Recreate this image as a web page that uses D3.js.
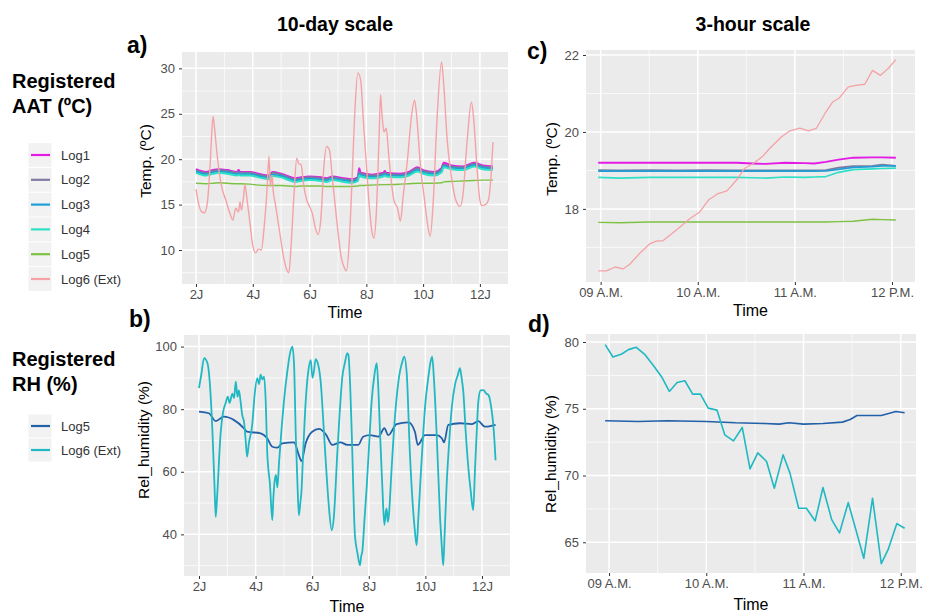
<!DOCTYPE html>
<html>
<head>
<meta charset="utf-8">
<script src="https://cdn.jsdelivr.net/npm/d3@7"></script>
<style>
body { margin: 0; background: #fff; }
svg { font-family: "Liberation Sans", Arial, sans-serif; }
</style>
</head>
<body>
<svg id="chart" width="925" height="615"></svg>
<script>
// ---- 10-day scale, indoor loggers (day of January) ----
var daysIn = [2.0,2.35,2.6,2.8,3.1,3.45,3.5,3.55,3.9,4.2,4.55,4.7,5.0,5.5,5.7,6.0,6.4,6.6,6.8,7.2,
  7.5,7.7,7.75,7.8,8.2,8.6,8.65,8.7,9.2,9.5,9.8,10.0,10.4,10.65,10.72,11.0,11.4,11.8,12.1,12.46];
var tempLog1 = [18.9,18.6,18.8,18.9,18.8,18.6,18.8,18.6,18.6,18.4,18.2,18.6,18.4,17.9,18.0,18.1,18.0,17.9,18.1,17.9,
  17.8,18.0,19.0,18.5,18.3,18.5,18.7,18.5,18.4,18.6,19.1,18.8,18.6,19.0,19.6,19.3,19.2,19.6,19.3,19.2];
var tempLog2 = [18.8,18.5,18.7,18.8,18.7,18.5,18.6,18.5,18.5,18.3,18.1,18.5,18.3,17.8,17.9,18.0,17.9,17.8,18.0,17.8,
  17.7,17.9,18.6,18.4,18.2,18.4,18.5,18.4,18.3,18.5,19.0,18.7,18.5,18.9,19.4,19.2,19.1,19.5,19.2,19.1];
var tempLog3 = [18.65,18.35,18.55,18.65,18.55,18.35,18.45,18.35,18.35,18.15,17.95,18.3,18.15,17.65,17.75,17.85,17.75,17.65,17.85,17.65,
  17.55,17.75,18.4,18.25,18.05,18.25,18.35,18.25,18.15,18.35,18.8,18.55,18.35,18.7,19.25,19.05,18.95,19.35,19.05,18.95];
var tempLog4 = [18.5,18.2,18.4,18.5,18.4,18.2,18.3,18.2,18.2,18.0,17.8,18.15,18.0,17.5,17.6,17.7,17.6,17.5,17.7,17.5,
  17.4,17.6,18.2,18.1,17.9,18.1,18.2,18.1,18.0,18.2,18.65,18.4,18.2,18.55,19.1,18.9,18.8,19.2,18.9,18.8];
var tempLog5 = [17.35,17.3,17.35,17.4,17.35,17.3,17.3,17.3,17.25,17.15,17.1,17.1,17.1,17.0,17.05,17.05,17.05,17.0,17.0,17.0,
  17.0,17.05,17.1,17.1,17.15,17.2,17.2,17.2,17.25,17.3,17.35,17.35,17.35,17.4,17.5,17.55,17.6,17.65,17.7,17.7];

// ---- 10-day scale, exterior logger ----
var daysExt = [2.0,2.1,2.2,2.3,2.4,2.5,2.6,2.65,2.75,2.9,3.05,3.2,3.3,3.4,3.5,3.55,3.6,3.68,3.72,3.8,
  3.9,4.0,4.1,4.2,4.3,4.4,4.5,4.57,4.62,4.68,4.72,4.8,4.95,5.1,5.2,5.27,5.35,5.45,5.55,5.62,
  5.7,5.8,5.9,6.0,6.1,6.2,6.3,6.4,6.5,6.6,6.7,6.8,6.9,7.0,7.1,7.25,7.3,7.4,7.5,7.6,
  7.7,7.8,7.9,8.0,8.1,8.2,8.27,8.35,8.45,8.5,8.55,8.62,8.7,8.8,8.97,9.1,9.2,9.3,9.45,9.6,
  9.7,9.78,9.9,10.05,10.15,10.25,10.35,10.5,10.65,10.72,10.85,11.0,11.15,11.3,11.4,11.55,11.7,11.78,11.9,12.0,
  12.07,12.2,12.3,12.4,12.46];
var tempLog6 = [16.7,15.0,14.2,14.1,15.2,19.5,24.7,23.5,20.3,17.0,15.5,14.0,13.3,14.6,14.2,15.3,14.4,16.0,17.2,15.5,
  13.0,10.5,9.7,10.1,10.0,12.5,16.5,20.3,17.0,18.2,16.5,15.0,11.9,9.0,7.8,7.5,10.5,16.0,20.1,19.5,
  19.4,17.0,15.5,14.8,14.0,12.5,11.7,13.5,19.0,21.4,21.0,18.0,15.0,12.0,9.5,7.9,7.7,11.0,18.0,25.5,
  29.5,28.7,24.0,19.5,15.0,12.0,11.3,14.0,22.5,27.1,25.0,23.0,23.4,20.0,15.5,14.6,13.2,16.0,20.0,25.0,
  26.5,24.5,19.5,15.5,13.0,11.5,15.0,25.0,30.7,28.5,22.0,18.0,15.5,14.8,16.0,22.0,26.3,24.5,19.0,15.5,
  14.9,15.0,15.5,18.5,21.9];

// ---- 10-day scale, relative humidity ----
var daysRh5 = [2.0,2.35,2.59,2.88,3.24,3.59,3.7,4.18,4.41,4.59,4.77,4.94,5.36,5.53,5.62,5.77,6.0,6.24,6.48,6.71,
  7.0,7.24,7.63,7.8,8.04,8.34,8.55,8.69,8.98,9.4,9.63,9.73,9.99,10.4,10.58,10.66,10.81,11.22,11.63,11.87,12.1,12.48];
var rhLog5 = [79.2,78.7,76.2,77.6,76.5,73.9,72.8,72.3,70.7,68,67.7,69.1,69.4,65.3,63.4,69.1,72.8,73.7,72,68.6,
  69.4,68.6,68.6,71.2,71.7,71.2,73.9,71.7,75.2,75.8,72.8,68.6,71.7,71.7,70.7,69.4,75,75.5,75.2,76.2,74.4,75];
var daysRh6 = [2.0,2.08,2.18,2.3,2.4,2.48,2.55,2.59,2.64,2.76,
  2.85,2.94,3.02,3.08,3.18,3.24,3.3,3.36,3.41,3.47,
  3.53,3.59,3.65,3.7,3.76,3.88,3.97,4.06,4.12,4.18,
  4.24,4.3,4.36,4.41,4.51,4.59,4.63,4.67,4.72,4.77,
  4.83,4.92,5.0,5.12,5.22,5.3,5.36,5.42,5.48,5.53,
  5.58,5.62,5.68,5.77,5.86,5.95,6.01,6.06,6.12,6.18,
  6.24,6.3,6.4,6.48,6.58,6.69,6.76,6.89,6.98,7.06,
  7.16,7.24,7.28,7.34,7.4,7.51,7.6,7.69,7.73,7.77,
  7.85,7.93,8.02,8.1,8.2,8.28,8.34,8.4,8.48,8.55,
  8.6,8.63,8.67,8.71,8.8,8.92,9.01,9.1,9.18,9.25,
  9.34,9.45,9.55,9.62,9.69,9.75,9.83,9.92,10.0,10.1,
  10.18,10.24,10.3,10.4,10.52,10.58,10.63,10.68,10.75,10.83,
  10.93,11.05,11.15,11.22,11.28,11.34,11.43,11.52,11.6,11.69,
  11.75,11.82,11.87,11.95,12.05,12.15,12.23,12.32,12.4,12.44,
  12.48];
var rhLog6 = [86.7,91,96.3,94.7,86,71.7,55,45.6,52,71.7,
  79,81.9,84,82,85,83.5,88.8,84,86,82.4,
  78,76,70,64.8,69,75,85,89.9,88,91,
  89.5,90.4,82,66.4,55.7,44.5,52,56.8,59,55,
  63.2,74,82.4,92,98,100,94,71.7,56,46.1,
  50,53.6,66,82.4,92,95.7,90,92,96,95.2,
  93,88.8,75,63.2,50,41.3,45,66.4,80,89.9,
  95,97.9,97.3,88,71.7,39.7,34,30.1,33,34.4,
  45,55.7,70,82.4,91,94.7,86,71.7,55,43,
  47,48.3,44,46.1,60,77.1,86,92,95,96.8,
  91.5,66.4,50,42,36.5,45,58,71.7,82,89.9,
  95,96.8,90,71.7,45.1,36,30.1,40,55.7,68,
  80.3,88,91,93.1,90,85.6,72,61.1,54,47.7,
  60,74,82.4,86,86.1,85,84.5,81,75,70,
  63.7];

// ---- 3-hour scale, temperature (hour of day) ----
var hoursIn = [8.975,9.2,9.5,9.8,10.1,10.4,10.56,10.7,10.9,11.1,11.2,11.32,11.45,11.6,11.8,11.9,12.04];
var hTempLog1 = [19.2,19.2,19.2,19.2,19.2,19.2,19.18,19.17,19.2,19.19,19.18,19.22,19.28,19.33,19.34,19.34,19.33];
var hTempLog2 = [19.01,19.0,19.01,19.0,19.01,19.0,19.0,19.0,19.0,19.0,19.0,19.01,19.07,19.11,19.12,19.15,19.12];
var hTempLog3 = [18.98,18.98,18.98,18.98,18.98,18.98,18.98,18.98,18.98,18.98,18.98,18.99,19.03,19.08,19.1,19.12,19.12];
var hTempLog4 = [18.82,18.8,18.82,18.82,18.82,18.82,18.81,18.8,18.83,18.82,18.83,18.84,18.95,19.02,19.04,19.05,19.06];
var hTempLog5 = [17.65,17.64,17.66,17.66,17.66,17.66,17.66,17.66,17.66,17.66,17.66,17.66,17.67,17.68,17.73,17.72,17.71];
var hoursExt = [8.975,9.06,9.15,9.23,9.3,9.4,9.51,9.58,9.64,9.78,9.92,10.02,10.11,10.21,10.3,10.4,10.48,10.57,10.67,10.74,
  10.86,10.95,11.05,11.14,11.22,11.31,11.39,11.46,11.55,11.63,11.72,11.8,11.88,11.96,12.04];
var hTempLog6 = [16.39,16.39,16.49,16.44,16.56,16.84,17.1,17.17,17.17,17.45,17.75,17.92,18.23,18.4,18.47,18.75,19.05,19.18,19.37,19.57,
  19.87,20.03,20.1,20.03,20.09,20.48,20.78,20.89,21.17,21.21,21.24,21.6,21.47,21.65,21.88];

// ---- 3-hour scale, relative humidity ----
var hoursRh5 = [8.96,9.3,9.6,10.0,10.3,10.6,10.75,10.85,11.0,11.2,11.4,11.48,11.55,11.8,11.95,12.04];
var hRhLog5 = [74.1,74.05,74.1,74.05,73.95,73.9,73.85,73.95,73.85,73.9,74.0,74.2,74.5,74.5,74.8,74.7];
var hoursRh6 = [8.96,9.04,9.13,9.2,9.28,9.37,9.46,9.54,9.62,9.7,9.78,9.86,9.94,10.02,10.11,10.19,10.28,10.37,10.45,10.53,
  10.62,10.7,10.79,10.86,10.95,11.03,11.12,11.2,11.29,11.37,11.46,11.54,11.62,11.71,11.8,11.87,11.96,12.04];
var hRhLog6 = [79.8,78.88,79.1,79.43,79.6,79.05,78.2,77.4,76.3,76.97,77.1,76.1,76.1,75.05,74.9,73.05,72.6,73.6,70.5,71.7,
  71.05,69.05,71.55,70.2,67.55,67.55,66.6,69.1,66.7,65.7,67.97,65.9,63.8,68.3,63.4,64.45,66.4,66.05];

// ---- ticks and labels ----
var dayTicks = [2, 4, 6, 8, 10, 12];
var dayLabels = ["2J", "4J", "6J", "8J", "10J", "12J"];
var hourTicks = [9, 10, 11, 12];
var hourLabels = ["09 A.M.", "10 A.M.", "11 A.M.", "12 P.M."];
var tempTicks10 = [10, 15, 20, 25, 30];
var rhTicks10 = [40, 60, 80, 100];
var tempTicks3 = [18, 20, 22];
var rhTicks3 = [65, 70, 75, 80];

var tempNames = ["Log1", "Log2", "Log3", "Log4", "Log5", "Log6 (Ext)"];
var tempColors = ["#E41BE4", "#7F7BA0", "#1E9ED6", "#2EE0C6", "#7DC242", "#F5A2A6"];
var rhNames = ["Log5", "Log6 (Ext)"];
var rhColors = ["#2260A8", "#20B8C2"];

var svg = d3.select("#chart");

function panel(p) {
  var x = d3.scaleLinear().domain(p.xDomain).range([p.left, p.right]);
  var y = d3.scaleLinear().domain(p.yDomain).range([p.bottom, p.top]);
  var g = svg.append("g");

  g.append("rect")
    .attr("x", p.left).attr("y", p.top)
    .attr("width", p.right - p.left).attr("height", p.bottom - p.top)
    .attr("fill", "#EBEBEB");

  // minor grid
  p.xMinor.forEach(function (v) {
    g.append("line").attr("x1", x(v)).attr("x2", x(v)).attr("y1", p.top).attr("y2", p.bottom)
      .attr("stroke", "#fff").attr("stroke-width", 0.7);
  });
  p.yMinor.forEach(function (v) {
    g.append("line").attr("y1", y(v)).attr("y2", y(v)).attr("x1", p.left).attr("x2", p.right)
      .attr("stroke", "#fff").attr("stroke-width", 0.7);
  });
  // major grid
  p.xTicks.forEach(function (v) {
    g.append("line").attr("x1", x(v)).attr("x2", x(v)).attr("y1", p.top).attr("y2", p.bottom)
      .attr("stroke", "#fff").attr("stroke-width", 1.5);
  });
  p.yTicks.forEach(function (v) {
    g.append("line").attr("y1", y(v)).attr("y2", y(v)).attr("x1", p.left).attr("x2", p.right)
      .attr("stroke", "#fff").attr("stroke-width", 1.5);
  });

  var line = d3.line()
    .curve(p.smooth ? d3.curveMonotoneX : d3.curveLinear)
    .x(function (d) { return x(d[0]); })
    .y(function (d) { return y(d[1]); });
  p.series.forEach(function (s) {
    g.append("path")
      .datum(d3.zip(s.x, s.y))
      .attr("d", line)
      .attr("fill", "none")
      .attr("stroke", s.color)
      .attr("stroke-width", s.width)
      .attr("stroke-linejoin", "round");
  });

  // axes
  var xa = g.append("g").attr("transform", "translate(0," + p.bottom + ")")
    .call(d3.axisBottom(x).tickValues(p.xTicks)
      .tickFormat(function (d, i) { return p.xLabels[i]; })
      .tickSize(3).tickPadding(3));
  var ya = g.append("g").attr("transform", "translate(" + p.left + ",0)")
    .call(d3.axisLeft(y).tickValues(p.yTicks).tickFormat(d3.format("d"))
      .tickSize(3).tickPadding(4));
  [xa, ya].forEach(function (a) {
    a.select(".domain").remove();
    a.selectAll(".tick line").attr("stroke", "#333").attr("stroke-width", 1);
    a.selectAll(".tick text").attr("fill", "#4D4D4D").style("font-size", "13px")
      .style("font-family", "'Liberation Sans', Arial, sans-serif");
  });

  g.append("text").attr("x", (p.left + p.right) / 2).attr("y", p.xTitleY)
    .attr("text-anchor", "middle").style("font-size", "16px").attr("fill", "#000")
    .text("Time");
  g.append("text")
    .attr("transform", "translate(" + p.yTitleX + "," + p.yTitleY + ") rotate(-90)")
    .attr("text-anchor", "middle").style("font-size", "15.5px").attr("fill", "#000")
    .text(p.yTitle);
  g.append("text").attr("x", p.tagX).attr("y", p.tagY)
    .style("font-size", "23px").style("font-weight", "bold").attr("fill", "#000")
    .text(p.tag);
}

// a) 10-day temperature
panel({
  left: 182, right: 508, top: 52, bottom: 284, smooth: true,
  xDomain: [1.507, 12.99], yDomain: [6.26, 31.8],
  xTicks: dayTicks, xLabels: dayLabels, xMinor: [3, 5, 7, 9, 11],
  yTicks: tempTicks10, yMinor: [7.5, 12.5, 17.5, 22.5, 27.5],
  xTitleY: 318, yTitle: "Temp. (ºC)", yTitleX: 151, yTitleY: 161,
  tag: "a)", tagX: 127, tagY: 53,
  series: [
    { x: daysIn, y: tempLog1, color: tempColors[0], width: 2 },
    { x: daysIn, y: tempLog2, color: tempColors[1], width: 2 },
    { x: daysIn, y: tempLog3, color: tempColors[2], width: 2 },
    { x: daysIn, y: tempLog4, color: tempColors[3], width: 2 },
    { x: daysIn, y: tempLog5, color: tempColors[4], width: 1.4 },
    { x: daysExt, y: tempLog6, color: tempColors[5], width: 1.4 }
  ]
});

// b) 10-day humidity
panel({
  left: 184, right: 510, top: 335, bottom: 576, smooth: true,
  xDomain: [1.47, 12.99], yDomain: [26.7, 103.7],
  xTicks: dayTicks, xLabels: dayLabels, xMinor: [3, 5, 7, 9, 11],
  yTicks: rhTicks10, yMinor: [30, 50, 70, 90],
  xTitleY: 612, yTitle: "Rel_humidity (%)", yTitleX: 149, yTitleY: 440,
  tag: "b)", tagX: 129, tagY: 327,
  series: [
    { x: daysRh5, y: rhLog5, color: rhColors[0], width: 1.8 },
    { x: daysRh6, y: rhLog6, color: rhColors[1], width: 1.8 }
  ]
});

// c) 3-hour temperature
panel({
  left: 586, right: 915, top: 50, bottom: 282,
  xDomain: [8.849, 12.237], yDomain: [16.1, 22.13],
  xTicks: hourTicks, xLabels: hourLabels, xMinor: [9.5, 10.5, 11.5],
  yTicks: tempTicks3, yMinor: [17, 19, 21],
  xTitleY: 316, yTitle: "Temp. (ºC)", yTitleX: 557, yTitleY: 159,
  tag: "c)", tagX: 527, tagY: 59,
  series: [
    { x: hoursIn, y: hTempLog1, color: tempColors[0], width: 1.8 },
    { x: hoursIn, y: hTempLog2, color: tempColors[1], width: 1.8 },
    { x: hoursIn, y: hTempLog3, color: tempColors[2], width: 1.8 },
    { x: hoursIn, y: hTempLog4, color: tempColors[3], width: 1.6 },
    { x: hoursIn, y: hTempLog5, color: tempColors[4], width: 1.4 },
    { x: hoursExt, y: hTempLog6, color: tempColors[5], width: 1.3 }
  ]
});

// d) 3-hour humidity
panel({
  left: 586, right: 916, top: 334, bottom: 573,
  xDomain: [8.763, 12.157], yDomain: [62.7, 80.6],
  xTicks: hourTicks, xLabels: hourLabels, xMinor: [9.5, 10.5, 11.5],
  yTicks: rhTicks3, yMinor: [67.5, 72.5, 77.5],
  xTitleY: 610, yTitle: "Rel_humidity (%)", yTitleX: 556, yTitleY: 454,
  tag: "d)", tagX: 528, tagY: 332,
  series: [
    { x: hoursRh5, y: hRhLog5, color: rhColors[0], width: 1.6 },
    { x: hoursRh6, y: hRhLog6, color: rhColors[1], width: 1.6 }
  ]
});

// column titles
svg.append("text").attr("x", 335).attr("y", 31).attr("text-anchor", "middle")
  .style("font-size", "19.5px").style("font-weight", "bold").text("10-day scale");
svg.append("text").attr("x", 753).attr("y", 31).attr("text-anchor", "middle")
  .style("font-size", "19.5px").style("font-weight", "bold").text("3-hour scale");

// legends
function legend(title, names, colors, titleY, firstY, step) {
  var g = svg.append("g");
  title.forEach(function (t, i) {
    g.append("text").attr("x", 12).attr("y", titleY + i * 25)
      .style("font-size", "20px").style("font-weight", "bold").attr("fill", "#000").text(t);
  });
  names.forEach(function (n, i) {
    var cy = firstY + i * step;
    g.append("rect").attr("x", 28.5).attr("y", cy - step / 2 + 0.5)
      .attr("width", 23).attr("height", step - 1).attr("fill", "#F2F2F2");
    g.append("line").attr("x1", 31).attr("x2", 50).attr("y1", cy).attr("y2", cy)
      .attr("stroke", colors[i]).attr("stroke-width", 2.2);
    g.append("text").attr("x", 61).attr("y", cy + 4.5)
      .style("font-size", "13px").attr("fill", "#333").text(n);
  });
}
legend(["Registered", "AAT (ºC)"], tempNames, tempColors, 88, 155, 24.8);
legend(["Registered", "RH (%)"], rhNames, rhColors, 366, 426, 24);
</script>
</body>
</html>
